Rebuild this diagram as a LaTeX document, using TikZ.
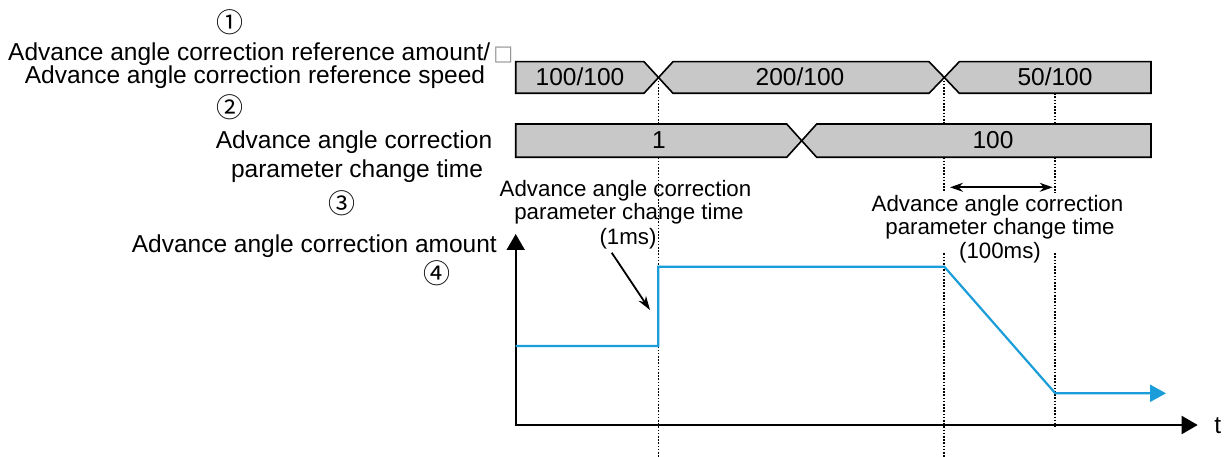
\documentclass[tikz,border=0pt]{standalone}
\usepackage{fontspec}
\setmainfont{Liberation Sans}
\newfontfamily\dejavu{DejaVu Sans}
\newfontfamily\cjkfont{Noto Sans CJK JP}
\usetikzlibrary{arrows.meta}
\definecolor{busgray}{RGB}{200,200,200}
\definecolor{curveblue}{RGB}{27,157,217}
\definecolor{tofugray}{RGB}{150,150,150}
\begin{document}
\begin{tikzpicture}[x=1pt,y=-1pt,
  lbl/.style={font=\fontsize{24.5}{26}\selectfont, inner sep=0pt, anchor=base},
  note/.style={font=\fontsize{22.3}{24}\selectfont, inner sep=0pt, anchor=base},
  circnum/.style={font=\fontsize{27}{27}\cjkfont, inner sep=0pt},
  bus/.style={draw=black, fill=busgray, line width=1.6pt, line join=miter},
  guide/.style={draw=black, line width=1.7pt, dash pattern=on 1.6pt off 1.6pt},
  axis/.style={draw=black, line width=2pt, {Triangle[length=16pt,width=18pt]}-{Triangle[length=16pt,width=18pt]}},
  curve/.style={draw=curveblue, line width=2.2pt, line join=miter, -{Triangle[length=16pt,width=17pt]}},
  pointer/.style={draw=black, line width=1.8pt, -{Stealth[length=14pt,width=9pt]}},
  span/.style={draw=black, line width=1.8pt, {Stealth[length=13pt,width=9pt]}-{Stealth[length=13pt,width=9pt]}},
]
\useasboundingbox (0,0) rectangle (1229,457);

% ---- left labels ----
\node[circnum] (n1) at (230,22) {①};
\node[lbl, anchor=base west] (l1a) at (8,60.5) {Advance angle correction reference amount/\kern3pt{\fontsize{21}{21}\dejavu\textcolor{tofugray}{□}}};
\node[lbl] (l1b) at (255,83.5) {Advance angle correction reference speed};
\node[circnum] (n2) at (230,107) {②};
\node[lbl] (l2a) at (354,149) {Advance angle correction};
\node[lbl] (l2b) at (357,178) {parameter change time};
\node[circnum] (n3) at (342,203) {③};
\node[lbl, anchor=base east] (l3) at (497,252) {Advance angle correction amount};
\node[circnum] (n4) at (437,273) {④};

% ---- guide lines ----
\coordinate (g1t) at (658.5,77.5);  \coordinate (g1b) at (658.5,457);
\coordinate (g2t) at (944.3,77.5);  \coordinate (g2b) at (944.3,457);
\coordinate (g3t) at (1055.3,93.3); \coordinate (g3b) at (1055.3,426.7);
\draw[guide] (g1t) -- (g1b);
\draw[guide] (g2t) -- (g2b);
\draw[guide] (g3t) -- (g3b);

% ---- annotation texts ----
\node[note] (ta1) at (625.5,196.7) {Advance angle correction};
\node[note] (ta2) at (629,220) {parameter change time};
\node[note] (ta3) at (628,244) {(1ms)};

\fill[white] (869,193) rectangle (1127,253);
\node[note] (tb1) at (997.5,211.7) {Advance angle correction};
\node[note] (tb2) at (1000,235) {parameter change time};
\node[note] (tb3) at (1000,258.5) {(100ms)};

% ---- buses ----
\draw[bus] (515.7,61.7) -- (644,61.7) -- (g1t) -- (644,93.3) -- (515.7,93.3) -- cycle;
\draw[bus] (g1t) -- (673,61.7) -- (929,61.7) -- (g2t) -- (929,93.3) -- (673,93.3) -- cycle;
\draw[bus] (g2t) -- (959.3,61.7) -- (1151,61.7) -- (1151,93.3) -- (959.3,93.3) -- cycle;
\node[lbl] (b1a) at (580,85.7) {100/100};
\node[lbl] (b1b) at (800,85.7) {200/100};
\node[lbl] (b1c) at (1055,85.7) {50/100};

\coordinate (x4) at (801.7,140.7);
\draw[bus] (515.7,124) -- (786.7,124) -- (x4) -- (786.7,157.3) -- (515.7,157.3) -- cycle;
\draw[bus] (x4) -- (816.7,124) -- (1151,124) -- (1151,157.3) -- (816.7,157.3) -- cycle;
\node[lbl] (b2a) at (659,149) {1};
\node[lbl] (b2b) at (993,149) {100};

% ---- axes ----
\coordinate (O) at (515.7,425);
\coordinate (ytop) at (515.7,234);
\coordinate (xend) at (1197.7,425);
\draw[axis] (ytop) -- (O) -- (xend);
\node[lbl] (tl) at (1217.7,433) {t};

% ---- curve ----
\coordinate (c0) at (515.7,346);
\coordinate (c1) at (658.3,346);
\coordinate (c2) at (658.3,266.7);
\coordinate (c3) at (944.3,266.7);
\coordinate (c4) at (1055.3,393.3);
\coordinate (c5) at (1166,393.3);
\draw[curve] (c0) -- (c1) -- (c2) -- (c3) -- (c4) -- (c5);

% ---- arrows ----
\coordinate (p0) at (611.7,252.7);
\coordinate (p1) at (650,310);
\draw[pointer] (p0) -- (p1);
\coordinate (s0) at (950,187.3);
\coordinate (s1) at (1052.7,187.3);
\draw[span] (s0) -- (s1);
\end{tikzpicture}
\end{document}
